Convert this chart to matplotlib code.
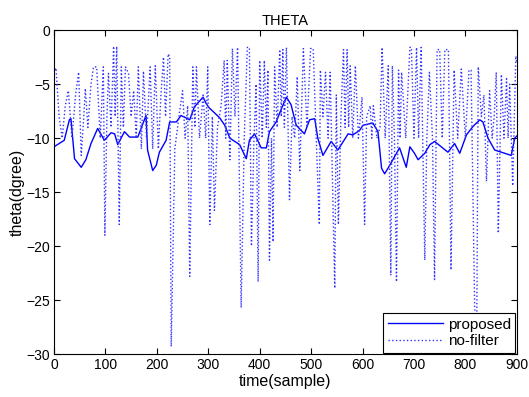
import matplotlib
matplotlib.use("Agg")
import matplotlib.pyplot as plt

# proposed (solid) waypoints
prop_x = [0, 20, 30, 33, 40, 53, 62, 72, 85, 98, 111, 118, 124, 137, 147, 163, 179, 182, 192, 199,
          205, 218, 225, 238, 247, 264, 273, 290, 296, 302, 322, 332, 342, 361, 374, 380, 390, 403,
          413, 419, 432, 442, 452, 461, 471, 487, 497, 507, 513, 523, 539, 552, 572, 581, 594, 601,
          620, 630, 637, 643, 653, 672, 685, 692, 701, 708, 721, 731, 740, 753, 766, 779, 789, 802,
          815, 828, 834, 844, 857, 870, 889, 896, 900]
prop_y = [-10.8, -10.2, -8.3, -8.2, -11.9, -12.7, -12.0, -10.5, -9.1, -10.2, -9.5, -9.6, -10.6, -9.4,
          -9.9, -9.9, -7.9, -11.1, -13.0, -12.5, -11.3, -10.2, -8.5, -8.5, -7.9, -8.3, -7.1, -6.2,
          -6.8, -7.2, -8.1, -8.8, -10.0, -10.6, -11.9, -10.2, -9.6, -10.9, -10.9, -9.4, -8.5, -7.3,
          -6.2, -6.9, -8.8, -9.6, -8.3, -8.2, -10.0, -11.6, -10.3, -11.1, -9.6, -9.7, -9.3, -8.8,
          -8.6, -9.4, -12.8, -13.3, -12.5, -10.9, -12.7, -10.8, -11.4, -12.0, -11.4, -10.6, -10.3,
          -10.8, -11.3, -10.5, -11.4, -9.7, -8.9, -8.3, -8.5, -10.0, -11.1, -11.3, -11.6, -10.0, -9.8]

# no-filter (dotted) waypoints
raw_x = [0, 4, 10, 16, 22, 28, 35, 42, 48, 53, 58, 61, 66, 72, 77, 83, 90, 96, 99, 103, 106, 111,
         116, 119, 122, 127, 131, 135, 139, 145, 150, 155, 160, 164, 170, 174, 180, 187, 192, 197,
         203, 208, 213, 217, 222, 225, 228, 235, 243, 250, 255, 260, 264, 270, 274, 277, 283, 290,
         295, 299, 303, 308, 312, 318, 325, 331, 334, 337, 342, 347, 352, 357, 364, 370, 376, 380,
         384, 389, 393, 397, 400, 405, 409, 413, 416, 419, 423, 426, 429, 434, 439, 442, 445, 448,
         452, 458, 463, 468, 473, 478, 485, 492, 499, 504, 510, 516, 518, 523, 528, 533, 537, 546,
         549, 553, 558, 563, 566, 570, 573, 576, 581, 586, 592, 599, 604, 608, 615, 618, 621, 628,
         634, 638, 644, 650, 655, 658, 662, 666, 670, 673, 676, 684, 692, 695, 700, 705, 709, 714,
         721, 725, 730, 736, 740, 745, 750, 755, 760, 767, 772, 778, 785, 792, 800, 807, 811, 818,
         822, 825, 831, 836, 841, 847, 852, 856, 860, 864, 870, 875, 880, 883, 886, 892, 898, 900]
raw_y = [-4, -3.5, -8, -10, -7, -5.6, -10, -6, -3.9, -11.6, -8, -5.4, -9, -5, -3.4, -3.4, -10,
         -3.4, -19, -8, -4, -9, -1.5, -8, -1.5, -18, -3.4, -9, -3.4, -4, -8, -5.6, -10, -3.4, -11,
         -3.8, -10, -3.4, -11, -3.3, -11, -6, -2.5, -8, -2.2, -2.4, -29.3, -11, -8, -5.6, -10, -7,
         -22.8, -3.4, -9, -3.4, -10, -6, -10, -3.4, -18, -8, -16.7, -9, -7, -2.8, -10, -2.8, -12,
         -1.7, -8, -1.6, -25.7, -10, -1.6, -1.6, -20, -10, -5, -23.3, -2.8, -10, -2.8, -9, -3.7,
         -21.3, -10, -19.6, -3.4, -9, -1.8, -8, -1.8, -9, -1.6, -15.7, -8, -10, -4.3, -13, -1.7,
         -9, -1.7, -1.7, -10, -18, -3.7, -8, -3.9, -10, -3.9, -23.9, -6, -18, -8, -1.8, -9, -1.8,
         -9, -3.3, -10, -3.3, -10, -6.2, -18, -8, -7, -10, -7, -10, -9, -1.6, -10, -3.3, -22.7,
         -3.3, -10, -23.3, -3.7, -10, -3.9, -10, -1.6, -1.6, -10, -1.6, -10, -1.6, -21.3, -10,
         -3.9, -10, -23.1, -1.8, -1.8, -10, -1.8, -1.8, -22.2, -3.7, -10, -3.6, -10, -3.7, -3.7,
         -25.6, -28, -3.4, -8, -6, -14, -5.6, -10, -8, -3.9, -18.8, -4.1, -10, -4.5, -10, -5,
         -14.4, -2.4, -3]

xticks = [0, 100, 200, 300, 400, 500, 600, 700, 800, 900]
yticks = [-30, -25, -20, -15, -10, -5, 0]

plt.rcParams['font.family'] = ['Liberation Sans', 'DejaVu Sans']
fig = plt.figure(figsize=(5.29, 3.97), dpi=100)
ax = fig.add_axes([0.102, 0.108, 0.875, 0.816])
ax.plot(prop_x, prop_y, color='#0000ff', lw=1.0, ls='-', label='proposed')
ax.plot(raw_x, raw_y, color='#3333ff', lw=1.0, ls=':', label='no-filter')
ax.set_xlim(0, 900)
ax.set_ylim(-30, 0)
ax.set_xticks(xticks)
ax.set_yticks(yticks)
ax.tick_params(direction='in', top=True, right=True, labelsize=10, length=4, pad=3)
ax.set_title('THETA', fontsize=10.5, pad=4)
ax.set_xlabel('time(sample)', fontsize=11.5, labelpad=1)
ax.set_ylabel('theta(dgree)', fontsize=11.5, labelpad=1)
leg = ax.legend(loc='lower right', fontsize=11, fancybox=False, edgecolor='black',
                framealpha=1, borderaxespad=0.1, handlelength=3.6, borderpad=0.3,
                labelspacing=0.15, handletextpad=0.3)
leg.get_frame().set_linewidth(0.8)
fig.savefig('out.png', dpi=100, facecolor='white')
